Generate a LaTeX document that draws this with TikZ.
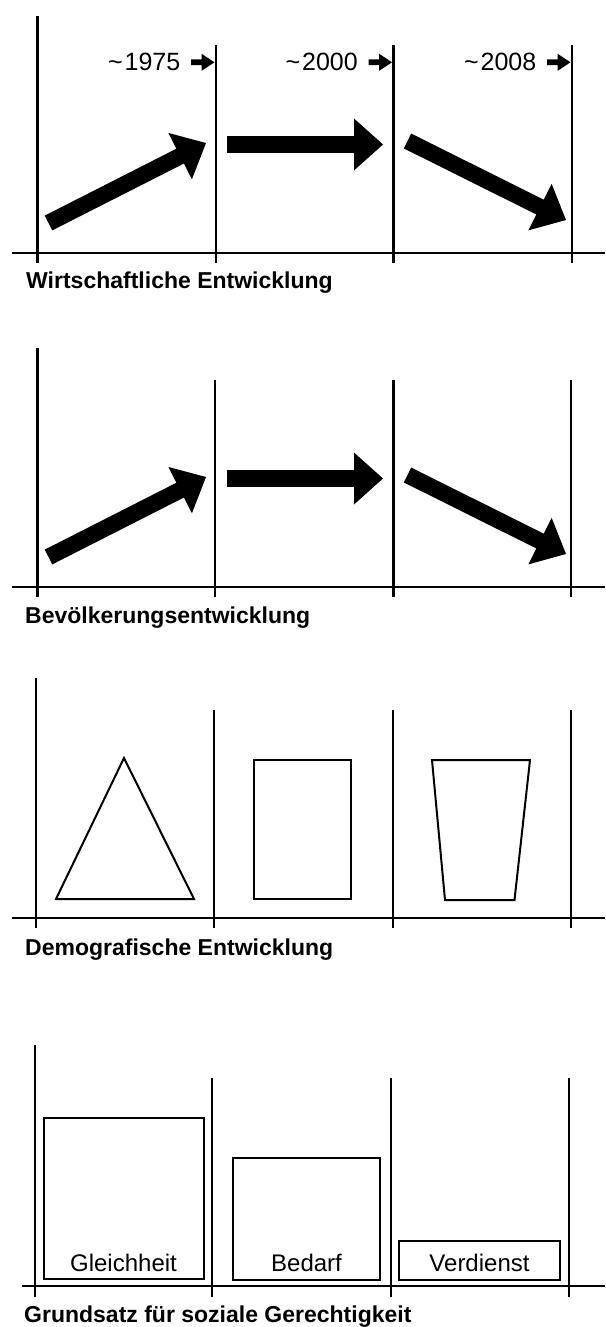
\documentclass[tikz,border=0pt]{standalone}
\usepackage{fontspec}
\setmainfont{Liberation Sans}
\usetikzlibrary{calc}
\newcommand\ArrowShape[5]{%
  \coordinate (aT) at #1; \coordinate (aP) at #2;
  \coordinate (aB) at ($(aP)!#5!(aT)$);
  \fill ($(aT)!#3!90:(aP)$) -- ($(aB)!#3!90:(aP)$) -- ($(aB)!#4!90:(aP)$) -- (aP)
    -- ($(aB)!#4!-90:(aP)$) -- ($(aB)!#3!-90:(aP)$) -- ($(aT)!#3!-90:(aP)$) -- cycle;}
\newcommand\FatArrow[2]{\ArrowShape{#1}{#2}{8.3pt}{26pt}{29pt}}
\newcommand\TinyArrow[2]{\ArrowShape{#1}{#2}{2.8pt}{8.6pt}{13pt}}
\begin{document}
\begin{tikzpicture}[x=1pt,y=-1pt,
  axis/.style={line width=2.6pt},
  outline/.style={line width=2pt, line join=miter},
  lab/.style={font=\bfseries\fontsize{23}{26}\selectfont, anchor=base west, inner sep=0pt},
  year/.style={font=\fontsize{25}{28}\selectfont, anchor=base east, inner sep=0pt},
  boxlab/.style={font=\fontsize{24}{28}\selectfont, anchor=base, inner sep=0pt}]
\fill[white] (0,0) rectangle (605,1327);
\useasboundingbox (0,0) rectangle (605,1327);

% ---------- Panel 1 ----------
\draw[axis] (12,253) -- (605,253);
\draw[axis] (37.5,16) -- (37.5,263);
\foreach \x in {216,393.5,572} \draw[axis] (\x,45) -- (\x,263);
\node[year] (y1975) at (180.5,70.7) {\textasciitilde\kern2pt1975};
\node[year] (y2000) at (358,70.7) {\textasciitilde\kern2pt2000};
\node[year] (y2008) at (536.5,70.7) {\textasciitilde\kern2pt2008};
\TinyArrow{(191,62.3)}{(214.5,62.3)}
\TinyArrow{(368.5,62.3)}{(392,62.3)}
\TinyArrow{(547,62.3)}{(570.5,62.3)}
\FatArrow{(48.5,223)}{(206,143)}
\FatArrow{(227,144.5)}{(383,144.5)}
\FatArrow{(407.5,141)}{(566,220)}
\node[lab] (lab1) at (26,288) {Wirtschaftliche Entwicklung};

% ---------- Panel 2 ----------
\draw[axis] (12,587) -- (605,587);
\draw[axis] (37.5,348) -- (37.5,597);
\foreach \x in {215,393.5,571} \draw[axis] (\x,380) -- (\x,597);
\begin{scope}[shift={(0,334)}]
\FatArrow{(48.5,223)}{(206,143)}
\FatArrow{(227,144.5)}{(383,144.5)}
\FatArrow{(407.5,141)}{(566,220)}
\end{scope}
\node[lab] (lab2) at (25,623) {Bevölkerungsentwicklung};

% ---------- Panel 3 ----------
\draw[axis] (12,918) -- (605,918);
\draw[axis] (36,678) -- (36,928);
\foreach \x in {214,393,571} \draw[axis] (\x,710) -- (\x,928);
\draw[outline] (124,758) -- (194,899) -- (56,899) -- cycle;
\draw[outline] (253.5,760) rectangle (350.5,899);
\draw[outline] (432,760) -- (530,760) -- (514.5,900) -- (445,900) -- cycle;
\node[lab] (lab3) at (25,955) {Demografische Entwicklung};

% ---------- Panel 4 ----------
\draw[axis] (22,1286) -- (605,1286);
\draw[axis] (35,1045) -- (35,1297);
\foreach \x in {212,391,569} \draw[axis] (\x,1078) -- (\x,1297);
\draw[outline] (43.5,1118) rectangle (203.5,1279);
\draw[outline] (233,1158) rectangle (380,1280);
\draw[outline] (399,1241) rectangle (560,1280);
\node[boxlab] (gl) at (123.5,1271) {Gleichheit};
\node[boxlab] (be) at (306.5,1271) {Bedarf};
\node[boxlab] (ve) at (479.5,1271) {Verdienst};
\node[lab] (lab4) at (24,1322) {Grundsatz für soziale Gerechtigkeit};
\end{tikzpicture}
\end{document}
